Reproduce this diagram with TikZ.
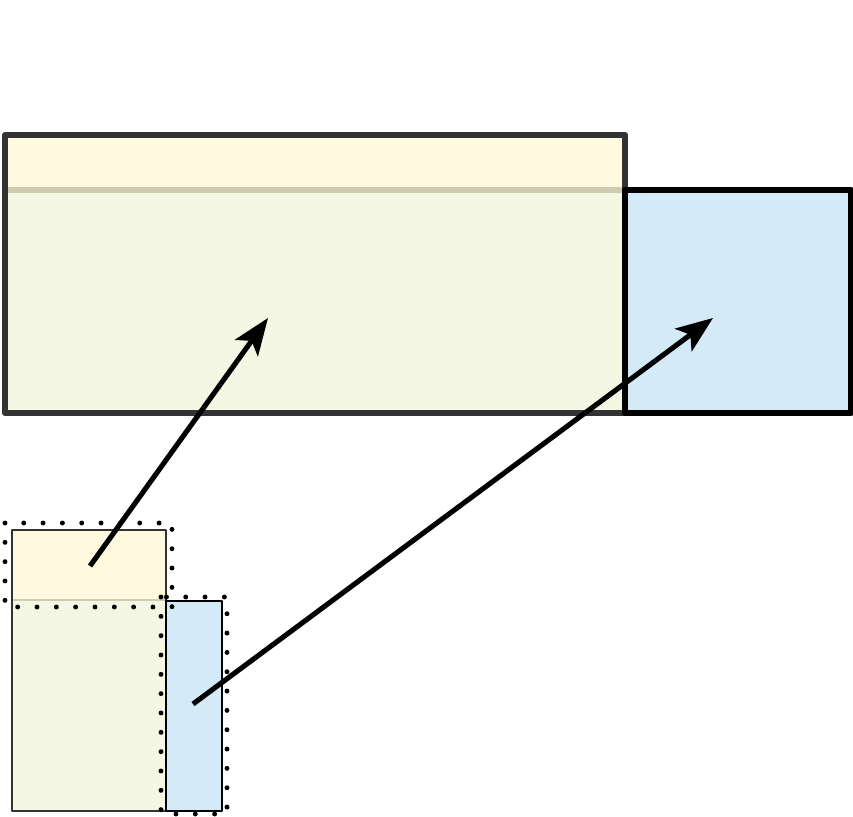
\documentclass[tikz,border=0pt]{standalone}
\usetikzlibrary{arrows.meta}
\definecolor{yellowtop}{HTML}{FFF9E0}
\definecolor{yellowbody}{HTML}{F4F7E3}
\definecolor{paleblue}{HTML}{D4EAF7}
\definecolor{seamgray}{HTML}{CFCBAE}
\tikzset{
	wall/.style={draw=black!80,line width=3.4pt},
	thinwall/.style={draw=black!80,line width=1.6pt},
	frame/.style={line width=2.8pt,line cap=round,dash pattern=on 0pt off 11pt},
	push/.style={->,line width=2.9pt}
}
\begin{document}
\begin{tikzpicture}[x=0.2mm,y=-0.2mm,>={Stealth[length=21pt,width=16pt,inset=5pt]}, line join=round]
				\useasboundingbox (0,0) rectangle (853,817);
				% big picture
				\fill[yellowtop] (5,135) rectangle (625,190);
				\fill[yellowbody] (5,190) rectangle (625,413);
				\draw[seamgray,line width=3pt] (5,190)--(625,190);
				\draw[wall] (5,135) rectangle (625,413);
				\draw[fill=paleblue,draw=black,line width=3.4pt] (625,190) rectangle (851,413);
				\coordinate (bigY) at (268,318);
				\coordinate (bigB) at (713,318);
				% small picture
				\fill[yellowtop] (12,530) rectangle (166,600);
				\fill[yellowbody] (12,600) rectangle (166,811);
				\draw[seamgray,line width=1.6pt] (12,600)--(166,600);
				\draw[thinwall] (12,530) rectangle (166,811);
				\draw[fill=paleblue,draw=black,line width=1.6pt] (166,601) rectangle (222,811);
				\draw[frame] (5,523) rectangle (172,607);
				\draw[frame] (161,597) rectangle (227,814);
				\coordinate (smallY) at (90,566);
				\coordinate (smallB) at (193,704);
				% arrows
				\draw[push] (smallY)--(bigY);
				\draw[push] (smallB)--(bigB);
			\end{tikzpicture}
\end{document}
